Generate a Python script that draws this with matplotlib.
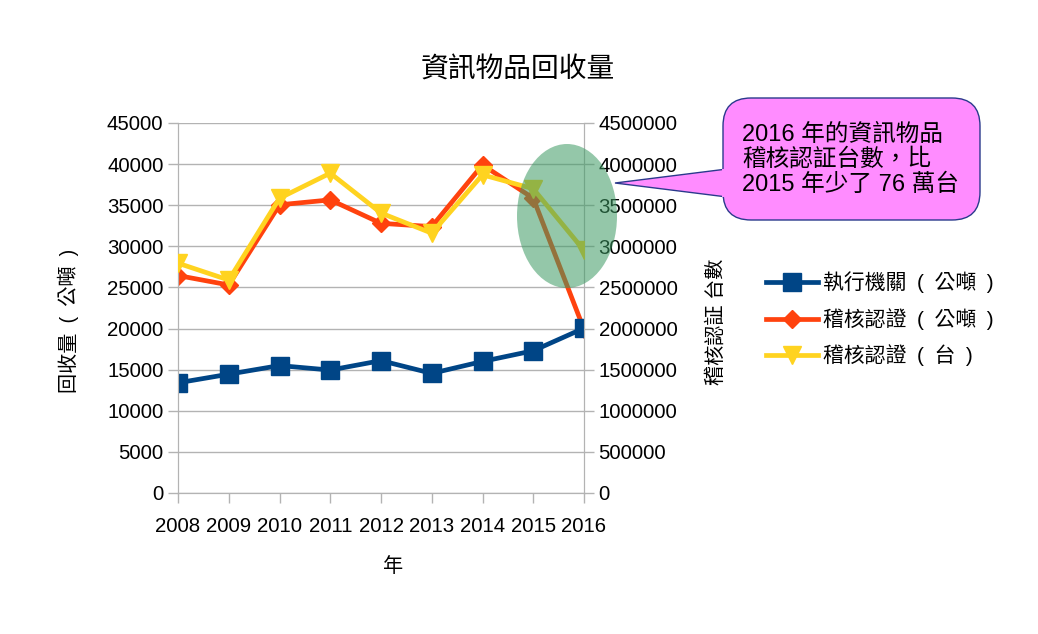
import matplotlib
matplotlib.use('Agg')
import matplotlib.pyplot as plt
from matplotlib.patches import FancyBboxPatch, Polygon, Ellipse
from matplotlib.transforms import IdentityTransform
from matplotlib.ticker import StrMethodFormatter, MultipleLocator

plt.rcParams['font.family'] = ['Liberation Sans', 'Noto Sans CJK TC', 'DejaVu Sans']

# 資料
years = [2008, 2009, 2010, 2011, 2012, 2013, 2014, 2015, 2016]
agency_tons = [13400, 14450, 15500, 14950, 16100, 14550, 16000, 17300, 20050]
audit_tons = [26450, 25300, 35050, 35650, 32800, 32400, 39900, 35850, 19900]
audit_units = [2795000, 2590000, 3585000, 3890000, 3405000, 3160000, 3870000, 3700000, 2950000]

series_names = ['執行機關\u2002(\u2002公噸\u2002)', '稽核認證\u2002(\u2002公噸\u2002)', '稽核認證\u2002(\u2002台\u2002)']
title = '資訊物品回收量'
note = '2016 年的資訊物品\n稽核認証台數，比\n2015 年少了 76 萬台'

W, H = 1038, 634
fig = plt.figure(figsize=(W / 100, H / 100), dpi=100)

def fx(x):
    return x / W

def fy(y):
    return 1 - y / H

ax = fig.add_axes([fx(178), fy(493), 406 / W, 370 / H])
ax2 = ax.twinx()

grid_c = '#b3b3b3'
l1, = ax.plot(years, agency_tons, '-s', color='#004586', lw=3.4, ms=12.5, zorder=3)
l2, = ax.plot(years, audit_tons, '-D', color='#ff420e', lw=3.4, ms=9.5, zorder=2)
l3, = ax2.plot(years, audit_units, '-v', color='#ffd320', lw=3.4, ms=13, zorder=3)

ax.set_xlim(2008, 2016)
ax.set_ylim(0, 45000)
ax2.set_ylim(0, 4500000)
ax.set_xticks(years)
ax.yaxis.set_major_locator(MultipleLocator(5000))
ax2.yaxis.set_major_locator(MultipleLocator(500000))
ax.yaxis.set_major_formatter(StrMethodFormatter('{x:.0f}'))
ax2.yaxis.set_major_formatter(StrMethodFormatter('{x:.0f}'))
ax.grid(axis='y', color=grid_c, lw=1)
ax.set_axisbelow(True)

for a in (ax, ax2):
    for s in a.spines.values():
        s.set_color(grid_c)
    a.spines['top'].set_visible(False)
    a.tick_params(colors=grid_c, labelcolor='black', labelsize=14.7, length=7, width=1)
ax.tick_params(axis='x', pad=10)

ax.set_xlabel('年', fontsize=14.5)
ax.set_ylabel('回收量\u2002(\u2002公噸\u2002)', fontsize=14.5)
ax2.set_ylabel('稽核認証 台數', fontsize=14.5)
ax.xaxis.set_label_coords((393 - 178) / 406, -(567 - 493) / 370)
ax.yaxis.set_label_coords(-(178 - 68) / 406, (493 - 321) / 370)
ax2.yaxis.set_label_coords((716 - 178) / 406, (493 - 322) / 370)
ax.xaxis.label.set_va('center')
ax.yaxis.label.set_va('center')
ax2.yaxis.label.set_va('center')

fig.text(fx(518), fy(70), title, ha='center', va='center', fontsize=20)

# 橢圓標示
ell = Ellipse((567, H - 216), 100, 144, transform=IdentityTransform(),
              facecolor='#3d9a63', edgecolor='none', alpha=0.55, zorder=5)
fig.add_artist(ell)

# 對話框
tip = Polygon([(615, H - 183), (735, H - 168), (735, H - 198)], closed=True,
              transform=IdentityTransform(), facecolor='#ff8cff',
              edgecolor='#2a3a8c', lw=1, zorder=6)
fig.add_artist(tip)
box = FancyBboxPatch((723, H - 220), 257, 122, boxstyle='round,pad=0,rounding_size=28',
                     transform=IdentityTransform(), facecolor='#ff8cff',
                     edgecolor='#2a3a8c', lw=1, zorder=7)
fig.add_artist(box)
cover = Polygon([(722, H - 169), (735, H - 169), (735, H - 197), (722, H - 197)], closed=True,
                transform=IdentityTransform(), facecolor='#ff8cff', edgecolor='none', zorder=8)
fig.add_artist(cover)
fig.text(fx(742), fy(160), note, ha='left', va='center', fontsize=17,
         linespacing=1.15, zorder=9)

fig.legend([l1, l2, l3], series_names, loc='center left',
           bbox_to_anchor=(fx(747), fy(319)), frameon=False, fontsize=15,
           handlelength=2.5, labelspacing=0.7, handletextpad=0.25)

fig.savefig('out.png', dpi=100)
